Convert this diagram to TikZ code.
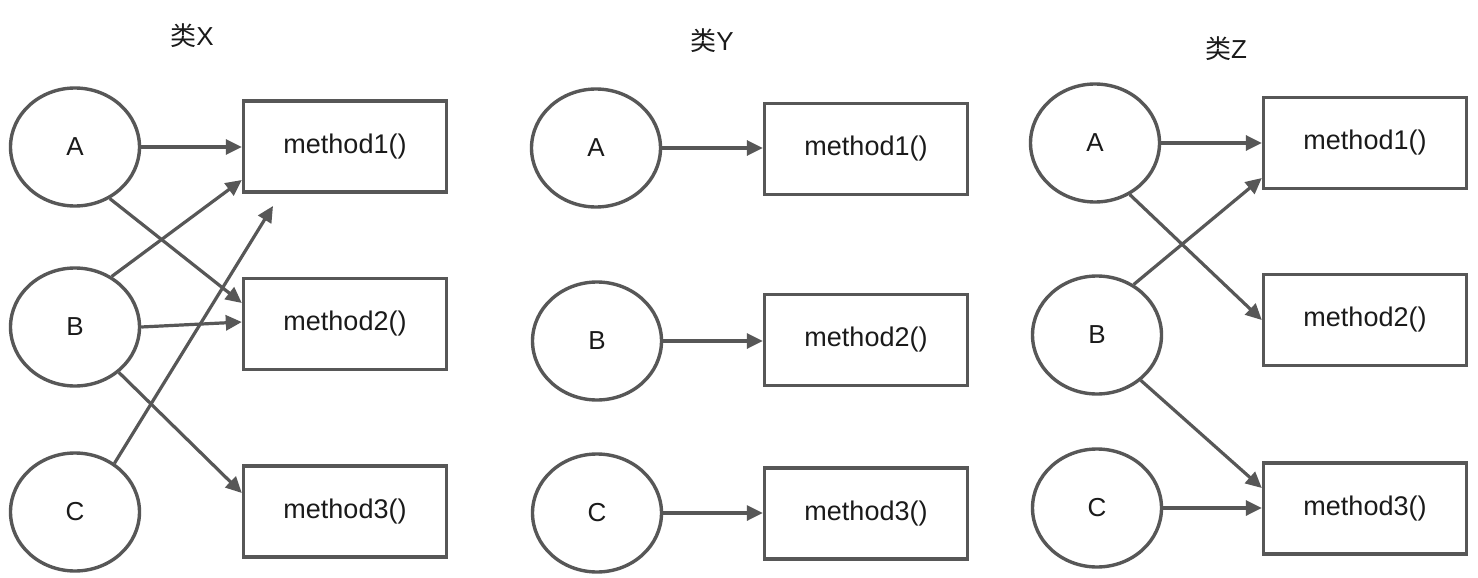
\documentclass[tikz,border=0pt]{standalone}
\usepackage{fontspec}
\setmainfont{Liberation Sans}
\newfontfamily\cjk{Noto Sans CJK SC}
\usetikzlibrary{shapes.geometric,arrows.meta}
\definecolor{linegray}{HTML}{575757}
\definecolor{textdark}{HTML}{1A1A1A}
\tikzset{
  ell/.style={ellipse,draw=linegray,line width=3.4pt,minimum width=129pt,minimum height=118pt,inner sep=0pt,font=\fontsize{26}{30}\selectfont,text=textdark},
  meth/.style={rectangle,draw=linegray,line width=3.4pt,minimum width=203pt,minimum height=91pt,inner sep=0pt,font=\fontsize{27}{30}\selectfont,text=textdark},
  ttl/.style={font=\fontsize{26}{30}\selectfont,text=textdark,inner sep=0pt},
  conn/.style={draw=linegray,line width=3.2pt,-{Triangle[length=16pt,width=15pt]}},
}
\begin{document}
\begin{tikzpicture}[x=1pt,y=-1pt]
\useasboundingbox[fill=white] (0,0) rectangle (1478,578);
% titles
\node[ttl] (tx) at (192,36) {{\cjk 类}X};
\node[ttl] (ty) at (712,41) {{\cjk 类}Y};
\node[ttl] (tz) at (1226,49) {{\cjk 类}Z};
% class X
\node[ell] (xa) at (75,147) {A};
\node[ell] (xb) at (75,327) {B};
\node[ell] (xc) at (75,512) {C};
\node[meth] (xm1) at (345,146.5) {method1()};
\node[meth] (xm2) at (345,324) {method2()};
\node[meth] (xm3) at (345,511.5) {method3()};
\coordinate (xfree) at (273,206);
\draw[conn] (xa.east) -- (xa.east -| xm1.west);
\draw[conn] (xa.-56) -- ([yshift=21pt]xm2.west);
\draw[conn] (xb.54) -- ([yshift=-33.5pt]xm1.west);
\draw[conn] (xb.east) -- ([yshift=2pt]xm2.west);
\draw[conn] (xb.-46) -- ([yshift=18.5pt]xm3.west);
\draw[conn] (xc.51) -- (xfree);
% class Y
\node[ell] (ya) at (596,148) {A};
\node[ell] (yb) at (597,341) {B};
\node[ell] (yc) at (597,513) {C};
\node[meth] (ym1) at (866,149) {method1()};
\node[meth] (ym2) at (866,340) {method2()};
\node[meth] (ym3) at (866,513.5) {method3()};
\draw[conn] (ya.east) -- (ya.east -| ym1.west);
\draw[conn] (yb.east) -- (yb.east -| ym2.west);
\draw[conn] (yc.east) -- (yc.east -| ym3.west);
% class Z
\node[ell] (za) at (1095,143) {A};
\node[ell] (zb) at (1097,335) {B};
\node[ell] (zc) at (1097,508) {C};
\node[meth] (zm1) at (1365,143) {method1()};
\node[meth] (zm2) at (1365,320) {method2()};
\node[meth] (zm3) at (1365,508.5) {method3()};
\draw[conn] (za.east) -- (za.east -| zm1.west);
\draw[conn] (za.-56) -- (zm2.west);
\draw[conn] (zb.54) -- ([yshift=-35pt]zm1.west);
\draw[conn] (zb.-46) -- ([yshift=20.5pt]zm3.west);
\draw[conn] (zc.east) -- (zc.east -| zm3.west);
\end{tikzpicture}
\end{document}
